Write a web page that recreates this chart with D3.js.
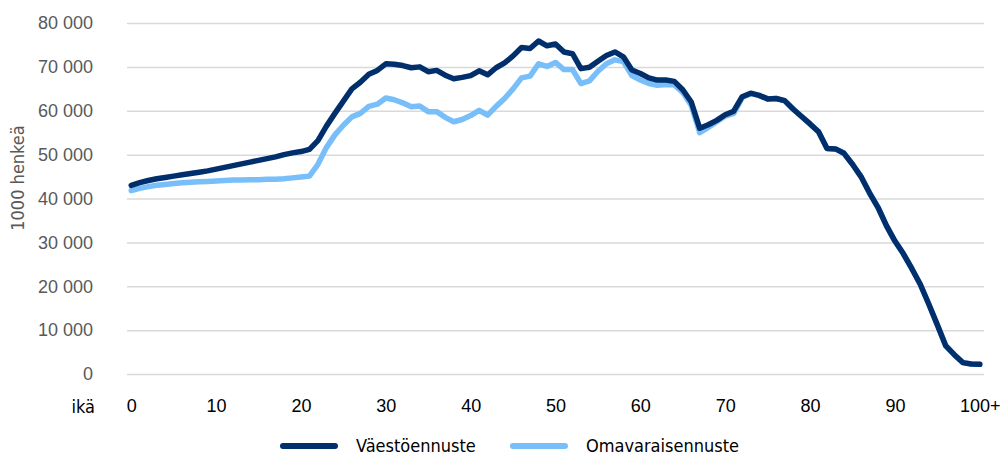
<!DOCTYPE html>
<html>
<head>
<meta charset="utf-8">
<script src="https://cdn.jsdelivr.net/npm/d3@7"></script>
<style>
  body { margin: 0; background: #fff; }
  svg { display: block; font-family: 'Liberation Sans Narrow', 'DejaVu Sans Condensed', sans-serif; }
  .y-axis text { fill: #595959; font-size: 18px; }
  .x-axis text { fill: #000; font-size: 18px; }
</style>
</head>
<body>
<svg id="chart"></svg>
<script>
// ----------------------------------------- Data -----------------------------------------

// ages 0..100 (last one is "100+")
var ages = d3.range(0, 101);
var xTickAges = [0, 10, 20, 30, 40, 50, 60, 70, 80, 90, 100];
var yTicks = [0, 10000, 20000, 30000, 40000, 50000, 60000, 70000, 80000];

var seriesNames = ['Väestöennuste', 'Omavaraisennuste'];

// Väestöennuste, 1000 henkeä by age
var vaesto = [
  43000, 43600, 44100, 44500, 44800, 45100, 45400, 45700, 46000, 46300,
  46700, 47100, 47500, 47900, 48300, 48700, 49100, 49500, 50000, 50400,
  50700, 51200, 53200, 56500, 59400, 62200, 65000, 66500, 68300, 69200,
  70700, 70600, 70300, 69800, 70000, 68900, 69200, 68100, 67300, 67600,
  68000, 69100, 68200, 69800, 70900, 72500, 74400, 74200, 75900, 74800,
  75200, 73400, 73000, 69600, 69900, 71300, 72600, 73400, 72300, 69300,
  68500, 67500, 67000, 67000, 66700, 64800, 62000, 56000, 56800, 57800,
  59100, 59900, 63200, 64000, 63500, 62700, 62800, 62300, 60400, 58700,
  57000, 55200, 51400, 51300, 50300, 47800, 45000, 41300, 38000, 33800,
  30300, 27400, 24000, 20400, 15900, 11200, 6400, 4400, 2600, 2300,
  2200
];

// Omavaraisennuste
var omavara = [
  41800, 42300, 42700, 43000, 43200, 43400, 43600, 43700, 43800, 43900,
  44000, 44100, 44200, 44200, 44300, 44300, 44400, 44400, 44500, 44700,
  44900, 45100, 47800, 51600, 54500, 56700, 58600, 59400, 61000, 61500,
  62900, 62500, 61800, 60900, 61100, 59800, 59800, 58500, 57500, 58000,
  58900, 60100, 59000, 61000, 62800, 65000, 67500, 67900, 70700, 70100,
  71000, 69400, 69400, 66200, 66800, 69000, 70700, 71600, 71200, 68000,
  67000, 66200, 65800, 66000, 65900, 64200, 61200, 55000, 56200, 57500,
  58800, 59400, 63000, 63900, 63500, 62700, 62800, 62300, 60400, 58700,
  57000, 55200, 51400, 51300, 50300, 47800, 45000, 41300, 38000, 33800,
  30300, 27400, 24000, 20400, 15900, 11200, 6400, 4400, 2600, 2300,
  2200
];

// ----------------------------------------- Setup -----------------------------------------

var width = 1003;
var height = 457;
var plotLeft = 127, plotRight = 984, plotTop = 23, plotBottom = 374;
var darkBlue = '#002f6c';
var lightBlue = '#78bef9';

var svg = d3.select('#chart')
            .attr('width', width)
            .attr('height', height);

var xScale = d3.scalePoint()
               .domain(ages)
               .range([plotLeft, plotRight])
               .padding(0.5);

var yScale = d3.scaleLinear()
               .domain([0, 80000])
               .range([plotBottom, plotTop]);

var fiLocale = d3.formatLocale({ decimal: ',', thousands: '\u00a0', grouping: [3], currency: ['', ' €'] });
var fmt = fiLocale.format(',d');

// ----------------------------------------- Axes -----------------------------------------

svg.append('g')
    .classed('y-axis', true)
    .attr('transform', `translate(${plotLeft}, 0)`)
    .call(d3.axisLeft(yScale)
            .tickValues(yTicks)
            .tickFormat(fmt)
            .tickSize(-(plotRight - plotLeft))
            .tickPadding(34))
    .call(g => g.select('.domain').remove())
    .call(g => g.selectAll('.tick line').attr('stroke', '#d9d9d9').attr('stroke-width', 1.5));

svg.append('g')
    .classed('x-axis', true)
    .attr('transform', `translate(0, ${plotBottom})`)
    .call(d3.axisBottom(xScale)
            .tickValues(xTickAges)
            .tickFormat(d => d === 100 ? '100+' : d)
            .tickSize(0)
            .tickPadding(25))
    .call(g => g.select('.domain').remove());

// category title next to the x labels
svg.append('text')
    .text('ikä')
    .attr('x', 95)
    .attr('y', 413)
    .attr('text-anchor', 'end')
    .attr('font-size', 18)
    .attr('fill', '#000');

// y-axis title
svg.append('text')
    .text('1000 henkeä')
    .attr('transform', 'rotate(-90)')
    .attr('x', -178)
    .attr('y', 24)
    .attr('text-anchor', 'middle')
    .attr('font-size', 18)
    .attr('fill', '#595959');

// ----------------------------------------- Lines -----------------------------------------

var line = d3.line()
             .x((d, i) => xScale(ages[i]))
             .y(d => yScale(d));

// light drawn first so the dark line sits on top where they meet
[[omavara, lightBlue], [vaesto, darkBlue]].forEach(function(s){
  svg.append('path')
      .datum(s[0])
      .attr('d', line)
      .attr('fill', 'none')
      .attr('stroke', s[1])
      .attr('stroke-width', 5.5)
      .attr('stroke-linejoin', 'round')
      .attr('stroke-linecap', 'round');
});

// ----------------------------------------- Legend -----------------------------------------

var legend = [
  { name: seriesNames[0], color: darkBlue, x: 283 },
  { name: seriesNames[1], color: lightBlue, x: 513 }
];

var lg = svg.append('g').classed('legend', true);

lg.selectAll('line')
  .data(legend)
  .enter()
  .append('line')
    .attr('x1', d => d.x)
    .attr('x2', d => d.x + 52)
    .attr('y1', 446)
    .attr('y2', 446)
    .attr('stroke', d => d.color)
    .attr('stroke-width', 6)
    .attr('stroke-linecap', 'round');

lg.selectAll('text')
  .data(legend)
  .enter()
  .append('text')
    .text(d => d.name)
    .attr('x', d => d.x + 73)
    .attr('y', 452)
    .attr('font-size', 18)
    .attr('fill', '#000');
</script>
</body>
</html>
